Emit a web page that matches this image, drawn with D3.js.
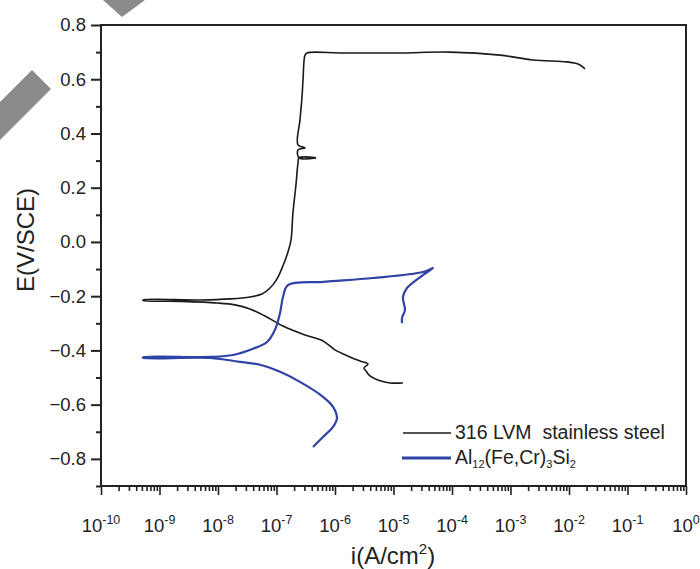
<!DOCTYPE html>
<html><head><meta charset="utf-8">
<script src="https://cdn.jsdelivr.net/npm/d3@7"></script>
<style>body{margin:0;background:#fff}svg{display:block}text{font-family:"Liberation Sans",Arial,sans-serif;fill:#222}</style>
</head><body>
<svg id="c" width="700" height="569"></svg>
<script>
// ---- data (current density A/cm2, potential V vs SCE) ----
const seriesNames = ["316 LVM  stainless steel", "Al12(Fe,Cr)3Si2"];
const steelI = [1.45e-5,8.71e-6,5.87e-6,3.96e-6,3.39e-6,3.13e-6,3.66e-6,2.67e-6,1.80e-6,1.0e-6,6.24e-7,3.07e-7,1.29e-7,6.35e-8,3.52e-8,1.95e-8,9.62e-9,2.24e-9,5.22e-10,
  5.22e-10,4.92e-9,1.60e-8,3.52e-8,5.65e-8,7.74e-8,1.02e-7,1.29e-7,1.57e-7,1.77e-7,1.91e-7,2.15e-7,2.33e-7,2.43e-7,4.73e-7,2.43e-7,2.33e-7,3.07e-7,2.33e-7,2.52e-7,2.73e-7,2.84e-7,3.07e-7,3.32e-7,1.37e-6,1.29e-5,9.25e-5,6.62e-4,2.43e-3,9.25e-3,1.43e-2,1.88e-2];
const steelE = [-0.520,-0.520,-0.512,-0.494,-0.476,-0.465,-0.450,-0.439,-0.424,-0.398,-0.365,-0.343,-0.310,-0.273,-0.247,-0.232,-0.225,-0.219,-0.216,
  -0.214,-0.214,-0.210,-0.203,-0.192,-0.170,-0.136,-0.088,-0.037,0.007,0.107,0.210,0.291,0.310,0.310,0.310,0.339,0.347,0.358,0.450,0.535,0.597,0.689,0.697,0.697,0.697,0.700,0.689,0.671,0.664,0.656,0.638];
const alloyI = [4.21e-7,6.24e-7,9.25e-7,1.08e-6,9.25e-7,6.24e-7,2.52e-7,1.15e-7,5.22e-8,2.38e-8,7.29e-9,5.22e-10,
  5.22e-10,7.29e-9,1.80e-8,3.96e-8,6.89e-8,9.42e-8,1.15e-7,1.29e-7,1.57e-7,6.24e-7,4.47e-6,3.19e-5,4.73e-5,3.19e-5,1.70e-5,1.45e-5,1.57e-5,1.40e-5,1.40e-5];
const alloyE = [-0.756,-0.719,-0.682,-0.649,-0.608,-0.571,-0.516,-0.479,-0.453,-0.442,-0.428,-0.427,
  -0.425,-0.424,-0.417,-0.394,-0.369,-0.324,-0.262,-0.203,-0.159,-0.147,-0.133,-0.111,-0.096,-0.122,-0.170,-0.203,-0.251,-0.280,-0.299];
const xTickExps = [-10,-9,-8,-7,-6,-5,-4,-3,-2,-1,0];
const yTicks = [-0.8,-0.6,-0.4,-0.2,0.0,0.2,0.4,0.6,0.8];
const colors = ["#1a1a1a", "#2f42a6"];

const svg = d3.select("#c");
const L=101, R=686, T=25, B=486;
const x = d3.scaleLog().domain([1e-10, 1]).range([L, R]);
const y = d3.scaleLinear().domain([-0.9, 0.8]).range([B, T]);

// watermark fragments
svg.append("polygon").attr("points","103,0 122,17 145,0").attr("fill","#8a8a8a");
svg.append("polygon").attr("points","32,70 51,89 0,140 0,102").attr("fill","#8a8a8a");

// frame
svg.append("rect").attr("x",L).attr("y",T).attr("width",R-L).attr("height",B-T)
  .attr("fill","none").attr("stroke","#222").attr("stroke-width",2);

// y axis
const yMinor = d3.range(-0.9, 0.81, 0.1).map(v=>+v.toFixed(2)).filter(v=>!yTicks.some(t=>Math.abs(t-v)<1e-6));
const yAx = svg.append("g").attr("transform",`translate(${L},0)`);
yAx.call(d3.axisLeft(y).tickValues(yTicks).tickSize(10).tickPadding(5).tickFormat(d3.format(".1f")));
yAx.append("g").call(d3.axisLeft(y).tickValues(yMinor).tickSize(5).tickFormat(""));
yAx.selectAll(".domain").remove();
yAx.selectAll("line").attr("stroke","#222").attr("stroke-width",2);
yAx.selectAll("text").style("font-size","18.5px").attr("fill","#222").attr("font-family","Liberation Sans, Arial, sans-serif");

// x axis
const xMinor = [];
xTickExps.slice(0,-1).forEach(e=>{ for(let k=2;k<=9;k++) xMinor.push(k*Math.pow(10,e)); });
const xAx = svg.append("g").attr("transform",`translate(0,${B})`);
xAx.call(d3.axisBottom(x).tickValues(xTickExps.map(e=>Math.pow(10,e))).tickSize(9).tickFormat(""));
xAx.append("g").call(d3.axisBottom(x).tickValues(xMinor).tickSize(5).tickFormat(""));
xAx.selectAll(".domain").remove();
xAx.selectAll("line").attr("stroke","#222").attr("stroke-width",1.6);
xTickExps.forEach(e=>{
  const t = svg.append("text").attr("x", x(Math.pow(10,e))).attr("y", 532)
    .attr("text-anchor","middle").style("font-size","18.5px");
  t.append("tspan").text("10");
  t.append("tspan").attr("dy",-8).style("font-size","12.5px").text(e);
});

// axis titles
svg.append("text").attr("transform","translate(34,240) rotate(-90)").attr("text-anchor","middle")
  .style("font-size","24px").text("E(V/SCE)");
const xt = svg.append("text").attr("x",393).attr("y",564).attr("text-anchor","middle").style("font-size","24px");
xt.append("tspan").text("i(A/cm");
xt.append("tspan").attr("dy",-10).style("font-size","15px").text("2");
xt.append("tspan").attr("dy",10).text(")");

// curves
const line = d3.line().x(d=>x(d[0])).y(d=>y(d[1])).curve(d3.curveCatmullRom.alpha(0.5));
svg.append("path").datum(steelI.map((v,i)=>[v,steelE[i]])).attr("d",line)
  .attr("fill","none").attr("stroke",colors[0]).attr("stroke-width",1.6);
svg.append("path").datum(alloyI.map((v,i)=>[v,alloyE[i]])).attr("d",line)
  .attr("fill","none").attr("stroke",colors[1]).attr("stroke-width",2.2);

// legend
svg.append("line").attr("x1",403).attr("x2",451).attr("y1",433).attr("y2",433).attr("stroke",colors[0]).attr("stroke-width",1.6);
svg.append("line").attr("x1",402).attr("x2",451).attr("y1",458).attr("y2",458).attr("stroke",colors[1]).attr("stroke-width",3);
svg.append("text").attr("x",455).attr("y",439).style("font-size","19.5px").style("white-space","pre").text(seriesNames[0]);
const lt = svg.append("text").attr("x",455).attr("y",464).style("font-size","19.5px");
lt.append("tspan").text("Al");
lt.append("tspan").attr("dy",4).style("font-size","11px").text("12");
lt.append("tspan").attr("dy",-4).text("(Fe,Cr)");
lt.append("tspan").attr("dy",4).style("font-size","11px").text("3");
lt.append("tspan").attr("dy",-4).text("Si");
lt.append("tspan").attr("dy",4).style("font-size","11px").text("2");
</script>
</body></html>
